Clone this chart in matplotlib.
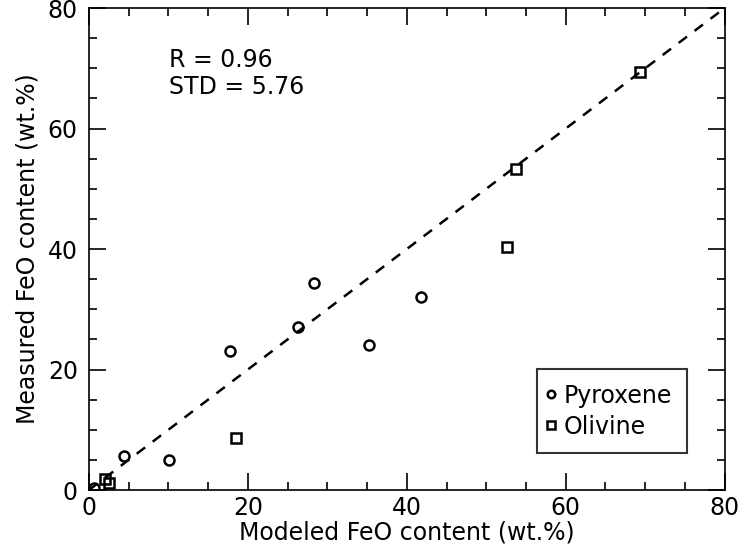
import matplotlib
matplotlib.use("Agg")
import matplotlib.pyplot as plt
from matplotlib.ticker import MultipleLocator

# Modeled vs measured FeO content (wt.%)
pyroxene_modeled = [0.7, 4.4, 10.1, 17.7, 26.3, 28.3, 35.3, 41.8]
pyroxene_measured = [0.4, 5.6, 5.0, 23.0, 27.0, 34.4, 24.1, 32.0]

olivine_modeled = [2.0, 2.5, 18.5, 52.6, 53.8, 69.3]
olivine_measured = [1.9, 1.1, 8.6, 40.3, 53.2, 69.4]

r_value = 0.96
std_value = 5.76

fig = plt.figure(figsize=(7.41, 5.54), dpi=100)
ax = fig.add_axes([0.120, 0.1155, 0.858, 0.870])

# 1:1 reference line, drawn over the hollow markers
ax.plot([0, 80], [0, 80], color="black", linestyle=(0, (4.2, 3.8)), linewidth=1.8, zorder=4)

ax.plot(pyroxene_modeled, pyroxene_measured, linestyle="none", marker="o",
        markersize=7.2, markerfacecolor="none", markeredgecolor="black",
        markeredgewidth=1.8, label="Pyroxene", zorder=3)
ax.plot(olivine_modeled, olivine_measured, linestyle="none", marker="s",
        markersize=7.2, markerfacecolor="none", markeredgecolor="black",
        markeredgewidth=1.8, label="Olivine", zorder=3)

ax.set_xlim(0, 80)
ax.set_ylim(0, 80)
ax.xaxis.set_major_locator(MultipleLocator(20))
ax.yaxis.set_major_locator(MultipleLocator(20))
ax.xaxis.set_minor_locator(MultipleLocator(5))
ax.yaxis.set_minor_locator(MultipleLocator(5))
ax.tick_params(which="both", direction="in", top=True, right=True,
               labelsize=17, width=1.2, colors="black")
ax.tick_params(which="major", length=12)
ax.tick_params(which="minor", length=6)
ax.tick_params(axis="x", which="major", pad=4.5)
ax.tick_params(axis="y", which="major", pad=8)
for sp in ax.spines.values():
    sp.set_linewidth(1.2)

ax.set_xlabel("Modeled FeO content (wt.%)", fontsize=17, labelpad=0)
ax.set_ylabel("Measured FeO content (wt.%)", fontsize=17, labelpad=6)

ax.text(10.1, 69.2, f"R = {r_value:.2f}\nSTD = {std_value:.2f}", fontsize=17,
        ha="left", va="center", linespacing=1.15)

leg = ax.legend(loc="lower right", bbox_to_anchor=(0.940, 0.077), fontsize=17,
                frameon=True, fancybox=False, handlelength=0.0,
                handletextpad=0.55, borderpad=0.6, labelspacing=0.3,
                borderaxespad=0, markerscale=0.75)
leg.get_frame().set_edgecolor("black")
leg.get_frame().set_linewidth(1.5)

fig.savefig("out.png", dpi=100)
